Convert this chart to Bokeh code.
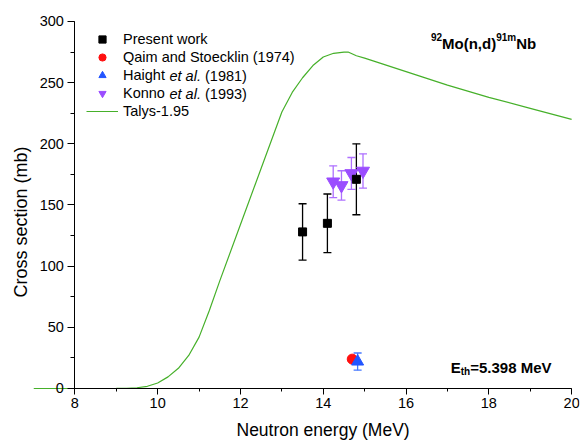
from bokeh.plotting import figure
from bokeh.models import (Range1d, SingleIntervalTicker, Legend, LegendItem, Label, Title,
                          Whisker, TeeHead, ColumnDataSource)
from bokeh.embed import file_html
from bokeh.resources import INLINE

# ---------------- data ----------------
talys_E = [7.0, 8.0, 9.0, 9.25, 9.5, 9.75, 10.0, 10.25, 10.5, 10.75, 11.0, 11.25, 11.5,
           12.0, 12.5, 13.0, 13.25, 13.5, 13.75, 14.0, 14.25, 14.5, 14.6, 14.8, 15.0,
           16.0, 17.0, 18.0, 19.0, 20.0]
talys_cs = [0, 0, 0.05, 0.2, 0.6, 1.8, 4.5, 9.5, 16.5, 27, 42, 64, 88,
            134, 180, 226, 242, 254, 264, 271, 274, 275, 275, 272, 270,
            259, 248, 238, 229, 220]

pw_E = [13.5, 14.1, 14.8]
pw_cs = [128, 135, 171]
pw_err = [23, 24, 29]

qaim_E = [14.7]
qaim_cs = [24]

haight_E = [14.83]
haight_cs = [22]
haight_err = [7]

konno_E = [14.24, 14.44, 14.68, 14.96]
konno_cs = [169, 166, 175.8, 177.8]
konno_err = [13, 12, 13, 14]

x_ticks_interval = 2
y_ticks_interval = 50

FONT = "Liberation Sans"
GREEN = "#46B02A"
PURPLE = "#9B4DFF"
PURPLE_ERR = "#AE70FF"
BLUE = "#2255FF"
BLUE_ERR = "#4477FF"
RED = "#FF1010"

p = figure(width=580, height=444, output_backend="svg", toolbar_location=None,
           x_range=Range1d(7.0, 20.19), y_range=Range1d(-22.9, 309.8),
           min_border_left=33, min_border_right=1, min_border_top=9, min_border_bottom=28)
p.grid.visible = False
p.outline_line_color = None
p.background_fill_color = "white"
p.border_fill_color = "white"

# Talys curve
r_talys = p.line(talys_E, talys_cs, line_color=GREEN, line_width=1.2)


def whisker(xs, ys, errs, color, lw=1.3, size=8):
    src = ColumnDataSource(dict(x=xs, lo=[y - e for y, e in zip(ys, errs)],
                                hi=[y + e for y, e in zip(ys, errs)]))
    w = Whisker(source=src, base="x", lower="lo", upper="hi", dimension="height",
                line_color=color, line_width=lw, level="underlay",
                upper_head=TeeHead(size=size, line_color=color, line_width=lw),
                lower_head=TeeHead(size=size, line_color=color, line_width=lw))
    p.add_layout(w)


whisker(konno_E, konno_cs, konno_err, PURPLE_ERR)
r_konno = p.scatter(konno_E, konno_cs, marker="inverted_triangle", size=13,
                    fill_color=PURPLE, line_color=PURPLE)
r_qaim = p.scatter(qaim_E, qaim_cs, marker="circle", size=10, fill_color=RED, line_color=RED)
whisker(haight_E, haight_cs, haight_err, BLUE_ERR)
r_haight = p.scatter(haight_E, haight_cs, marker="triangle", size=12,
                     fill_color=BLUE, line_color=BLUE)
whisker(pw_E, pw_cs, pw_err, "black")
r_pw = p.scatter(pw_E, pw_cs, marker="square", size=8, fill_color="black", line_color="black")

# axes (crossing at E = 8 MeV and 0 mb)
for ax in (p.xaxis[0], p.yaxis[0]):
    ax.axis_line_color = "black"
    ax.axis_line_width = 1
    ax.major_tick_line_color = "black"
    ax.minor_tick_line_color = "black"
    ax.major_tick_in = 0
    ax.minor_tick_in = 0
    ax.major_label_text_font = FONT
    ax.major_label_text_font_size = "14.5px"
    ax.major_label_text_color = "black"

xa = p.xaxis[0]
xa.ticker = SingleIntervalTicker(interval=x_ticks_interval, num_minor_ticks=2)
xa.bounds = (8, 20)
xa.fixed_location = 0
xa.major_tick_out = 6
xa.minor_tick_out = 3
xa.major_label_standoff = 4

ya = p.yaxis[0]
ya.ticker = SingleIntervalTicker(interval=y_ticks_interval, num_minor_ticks=2)
ya.bounds = (0, 300)
ya.fixed_location = 8
ya.major_tick_out = 7
ya.minor_tick_out = 4
ya.major_label_standoff = 4

# axis titles
p.add_layout(Title(text="Neutron energy (MeV)", align="left", offset=203, standoff=2,
                   text_font=FONT, text_font_size="17.5px", text_font_style="normal",
                   text_color="black"), "below")
p.add_layout(Title(text="Cross section (mb)", align="left", offset=119, standoff=6,
                   text_font=FONT, text_font_size="18px", text_font_style="normal",
                   text_color="black"), "left")

# legend
LX, LY = 53, 296
legend = Legend(items=[
    LegendItem(label="Present work", renderers=[r_pw]),
    LegendItem(label="Qaim and Stoecklin (1974)", renderers=[r_qaim]),
    LegendItem(label="Haight", renderers=[r_haight]),
    LegendItem(label="Konno", renderers=[r_konno]),
    LegendItem(label="Talys-1.95", renderers=[r_talys]),
], location=(LX, LY), padding=0, margin=0, spacing=0, label_height=18, glyph_height=18,
    glyph_width=32, label_standoff=5, border_line_color=None, background_fill_alpha=0,
    label_text_font=FONT, label_text_font_size="14.5px", label_text_color="black")
p.add_layout(legend, "center")

leg_text_x = LX + 32 + 5
for row, year in ((2, "(1981)"), (3, "(1993)")):
    yc = LY + 90 - (row + 0.5) * 18
    p.add_layout(Label(x=leg_text_x + 46, y=yc, x_units="screen", y_units="screen",
                       text="et al.", text_font=FONT, text_font_size="14.5px",
                       text_font_style="italic", text_baseline="middle", text_color="black"))
    p.add_layout(Label(x=leg_text_x + 81.5, y=yc, x_units="screen", y_units="screen",
                       text=year, text_font=FONT, text_font_size="14.5px",
                       text_baseline="middle", text_color="black"))


def lab(x, y, text, size, dx=0, dy=0):
    p.add_layout(Label(x=x, y=y, text=text, text_font=FONT, text_font_size=size,
                       text_font_style="bold", text_color="black", x_offset=dx, y_offset=dy,
                       text_baseline="alphabetic"))


tx, ty = 16.6, 282
lab(tx, ty, "92", "10px", 0, 6.5)
lab(tx, ty, "Mo(n,d)", "15px", 11.1)
lab(tx, ty, "91m", "10px", 11.1 + 54.2, 6.5)
lab(tx, ty, "Nb", "15px", 11.1 + 54.2 + 20)

ex, ey = 17.08, 17.4
lab(ex, ey, "E", "15px", 0)
lab(ex, ey, "th", "10px", 10, -4)
lab(ex, ey, "=5.398 MeV", "15px", 19.5)

open("out.html", "w").write(file_html(p, INLINE))
